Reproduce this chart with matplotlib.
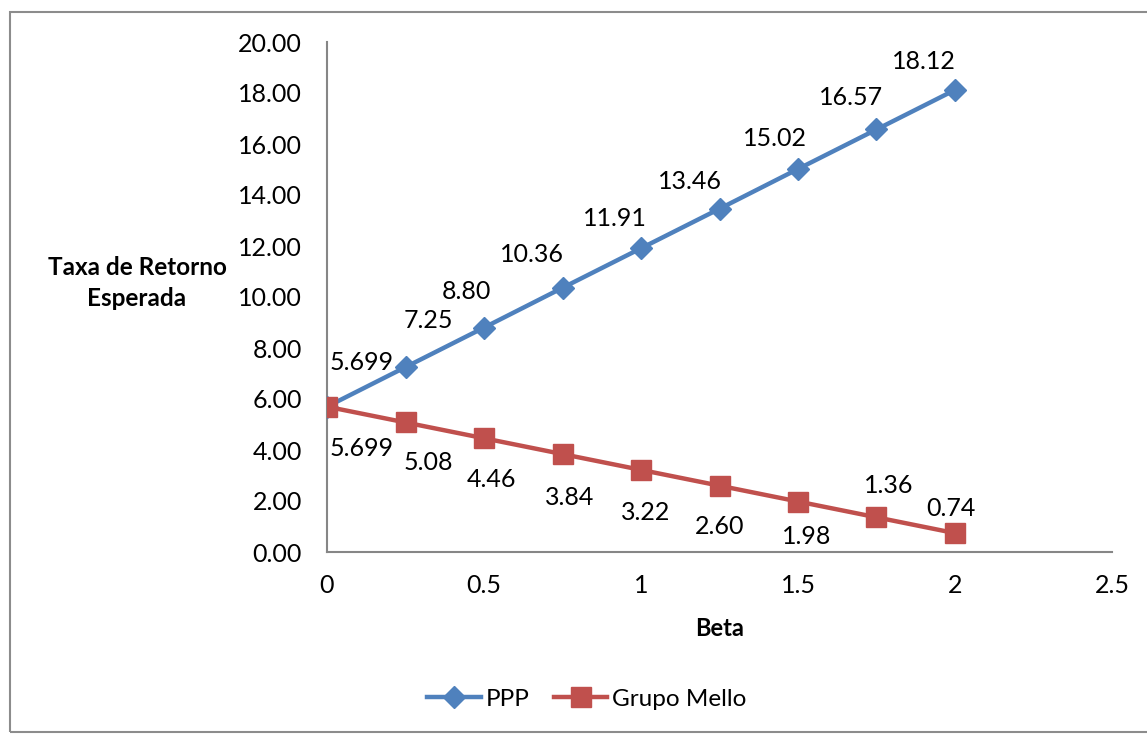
import matplotlib.pyplot as plt
from matplotlib.patches import FancyBboxPatch
import numpy as np

plt.rcParams["font.family"] = ["Lato", "DejaVu Sans"]

beta = [0, 0.25, 0.5, 0.75, 1, 1.25, 1.5, 1.75, 2]
ppp = [5.699, 7.25, 8.80, 10.36, 11.91, 13.46, 15.02, 16.57, 18.12]
mello = [5.699, 5.08, 4.46, 3.84, 3.22, 2.60, 1.98, 1.36, 0.74]

blue = "#4F81BD"
red = "#C0504D"

# label offsets in pixels (dx, dy), y pointing up
ppp_off = [(35, 44), (23, 47), (-18, 36), (-31, 33), (-26, 30), (-30, 27), (-23, 30), (-25, 32), (-31, 28)]
mello_off = [(35, -42), (23, -40), (7, -41), (7, -43), (5, -43), (0, -41), (9, -35), (12, 32), (-4, 25)]


def fmt(i, v):
    return f"{v:.3f}" if i == 0 else f"{v:.2f}"


fig = plt.figure(figsize=(11.47, 7.36), dpi=100)

# outer frame
fig.patches.append(FancyBboxPatch((10 / 1147, 4 / 736), 1140 / 1147, 720 / 736,
                                  boxstyle="square,pad=0", transform=fig.transFigure,
                                  fill=False, edgecolor="#8c8c8c", linewidth=1.5))

ax = fig.add_axes([327 / 1147, 1 - 552 / 736, 785 / 1147, 510 / 736])

ax.plot(beta, ppp, color=blue, lw=3.2, marker="D", ms=11, label="PPP", zorder=3)
ax.plot(beta, mello, color=red, lw=3.2, marker="s", ms=14, label="Grupo Mello", zorder=3)

for i, (x, y) in enumerate(zip(beta, ppp)):
    ax.annotate(fmt(i, y), (x, y), xytext=(ppp_off[i][0] * 0.72, ppp_off[i][1] * 0.72),
                textcoords="offset points", ha="center", va="center", fontsize=18)
for i, (x, y) in enumerate(zip(beta, mello)):
    ax.annotate(fmt(i, y), (x, y), xytext=(mello_off[i][0] * 0.72, mello_off[i][1] * 0.72),
                textcoords="offset points", ha="center", va="center", fontsize=18)

ax.set_xlim(0, 2.5)
ax.set_ylim(0, 20)
ax.set_xticks(np.arange(0, 2.51, 0.5))
ax.set_xticklabels(["0", "0.5", "1", "1.5", "2", "2.5"])
ax.set_yticks(np.arange(0, 20.1, 2))
ax.set_yticklabels([f"{v:.2f}" for v in np.arange(0, 20.1, 2)])
ax.tick_params(length=0, labelsize=18, pad=18)
ax.tick_params(axis="x", pad=16)

for s in ["top", "right"]:
    ax.spines[s].set_visible(False)
for s in ["left", "bottom"]:
    ax.spines[s].set_color("#868686")
    ax.spines[s].set_linewidth(1.5)

ax.set_xlabel("Beta", fontsize=17, fontweight="bold", labelpad=14)
fig.text(137 / 1147, 1 - 283 / 736, "Taxa de Retorno\nEsperada", fontsize=17.5,
         fontweight="bold", ha="center", va="center", linespacing=1.45)

fig.legend(loc="center", bbox_to_anchor=(587 / 1147, 1 - 699 / 736), ncol=2,
           frameon=False, fontsize=17.5, handlelength=2.2, columnspacing=1.0,
           handletextpad=0.2)

fig.savefig("out.png", dpi=100)
